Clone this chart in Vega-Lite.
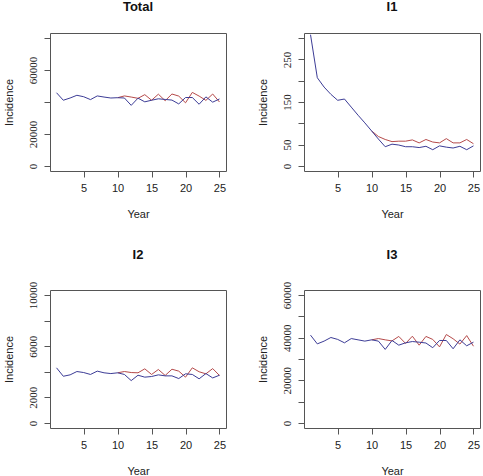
{
  "$schema": "https://vega.github.io/schema/vega-lite/v6.json",
  "background": "white",
  "padding": {"left": 2, "top": 0, "right": 4, "bottom": 0},
  "datasets": {
    "d": [
      {"p":"Total","s":"Model","yr":10,"v":42700},{"p":"Total","s":"Model","yr":11,"v":43800},{"p":"Total","s":"Model","yr":12,"v":43100},{"p":"Total","s":"Model","yr":13,"v":42300},{"p":"Total","s":"Model","yr":14,"v":44600},{"p":"Total","s":"Model","yr":15,"v":41100},{"p":"Total","s":"Model","yr":16,"v":44900},{"p":"Total","s":"Model","yr":17,"v":40800},{"p":"Total","s":"Model","yr":18,"v":45000},{"p":"Total","s":"Model","yr":19,"v":43700},{"p":"Total","s":"Model","yr":20,"v":39500},{"p":"Total","s":"Model","yr":21,"v":46000},{"p":"Total","s":"Model","yr":22,"v":43700},{"p":"Total","s":"Model","yr":23,"v":41000},{"p":"Total","s":"Model","yr":24,"v":45000},{"p":"Total","s":"Model","yr":25,"v":40000},
      {"p":"Total","s":"Reported","yr":1,"v":45800},{"p":"Total","s":"Reported","yr":2,"v":41100},{"p":"Total","s":"Reported","yr":3,"v":42500},{"p":"Total","s":"Reported","yr":4,"v":44200},{"p":"Total","s":"Reported","yr":5,"v":43300},{"p":"Total","s":"Reported","yr":6,"v":41500},{"p":"Total","s":"Reported","yr":7,"v":43800},{"p":"Total","s":"Reported","yr":8,"v":43100},{"p":"Total","s":"Reported","yr":9,"v":42500},{"p":"Total","s":"Reported","yr":10,"v":42700},{"p":"Total","s":"Reported","yr":11,"v":42500},{"p":"Total","s":"Reported","yr":12,"v":37900},{"p":"Total","s":"Reported","yr":13,"v":42400},{"p":"Total","s":"Reported","yr":14,"v":40100},{"p":"Total","s":"Reported","yr":15,"v":41100},{"p":"Total","s":"Reported","yr":16,"v":42000},{"p":"Total","s":"Reported","yr":17,"v":41600},{"p":"Total","s":"Reported","yr":18,"v":41200},{"p":"Total","s":"Reported","yr":19,"v":38800},{"p":"Total","s":"Reported","yr":20,"v":42800},{"p":"Total","s":"Reported","yr":21,"v":42800},{"p":"Total","s":"Reported","yr":22,"v":38600},{"p":"Total","s":"Reported","yr":23,"v":43200},{"p":"Total","s":"Reported","yr":24,"v":39900},{"p":"Total","s":"Reported","yr":25,"v":41900},

      {"p":"I1","s":"Model","yr":10,"v":82},{"p":"I1","s":"Model","yr":11,"v":69},{"p":"I1","s":"Model","yr":12,"v":62},{"p":"I1","s":"Model","yr":13,"v":57},{"p":"I1","s":"Model","yr":14,"v":58},{"p":"I1","s":"Model","yr":15,"v":58},{"p":"I1","s":"Model","yr":16,"v":61},{"p":"I1","s":"Model","yr":17,"v":54},{"p":"I1","s":"Model","yr":18,"v":62},{"p":"I1","s":"Model","yr":19,"v":56},{"p":"I1","s":"Model","yr":20,"v":54},{"p":"I1","s":"Model","yr":21,"v":64},{"p":"I1","s":"Model","yr":22,"v":54},{"p":"I1","s":"Model","yr":23,"v":54},{"p":"I1","s":"Model","yr":24,"v":62},{"p":"I1","s":"Model","yr":25,"v":52},
      {"p":"I1","s":"Reported","yr":1,"v":308},{"p":"I1","s":"Reported","yr":2,"v":207},{"p":"I1","s":"Reported","yr":3,"v":185},{"p":"I1","s":"Reported","yr":4,"v":168},{"p":"I1","s":"Reported","yr":5,"v":154},{"p":"I1","s":"Reported","yr":6,"v":157},{"p":"I1","s":"Reported","yr":7,"v":138},{"p":"I1","s":"Reported","yr":8,"v":119},{"p":"I1","s":"Reported","yr":9,"v":101},{"p":"I1","s":"Reported","yr":10,"v":82},{"p":"I1","s":"Reported","yr":11,"v":63},{"p":"I1","s":"Reported","yr":12,"v":45},{"p":"I1","s":"Reported","yr":13,"v":51},{"p":"I1","s":"Reported","yr":14,"v":49},{"p":"I1","s":"Reported","yr":15,"v":45},{"p":"I1","s":"Reported","yr":16,"v":45},{"p":"I1","s":"Reported","yr":17,"v":43},{"p":"I1","s":"Reported","yr":18,"v":46},{"p":"I1","s":"Reported","yr":19,"v":38},{"p":"I1","s":"Reported","yr":20,"v":47},{"p":"I1","s":"Reported","yr":21,"v":44},{"p":"I1","s":"Reported","yr":22,"v":42},{"p":"I1","s":"Reported","yr":23,"v":46},{"p":"I1","s":"Reported","yr":24,"v":38},{"p":"I1","s":"Reported","yr":25,"v":47},

      {"p":"I2","s":"Model","yr":10,"v":3920},{"p":"I2","s":"Model","yr":11,"v":4020},{"p":"I2","s":"Model","yr":12,"v":3940},{"p":"I2","s":"Model","yr":13,"v":3920},{"p":"I2","s":"Model","yr":14,"v":4230},{"p":"I2","s":"Model","yr":15,"v":3790},{"p":"I2","s":"Model","yr":16,"v":4180},{"p":"I2","s":"Model","yr":17,"v":3710},{"p":"I2","s":"Model","yr":18,"v":4200},{"p":"I2","s":"Model","yr":19,"v":4050},{"p":"I2","s":"Model","yr":20,"v":3580},{"p":"I2","s":"Model","yr":21,"v":4310},{"p":"I2","s":"Model","yr":22,"v":4000},{"p":"I2","s":"Model","yr":23,"v":3840},{"p":"I2","s":"Model","yr":24,"v":4250},{"p":"I2","s":"Model","yr":25,"v":3710},
      {"p":"I2","s":"Reported","yr":1,"v":4310},{"p":"I2","s":"Reported","yr":2,"v":3650},{"p":"I2","s":"Reported","yr":3,"v":3760},{"p":"I2","s":"Reported","yr":4,"v":4020},{"p":"I2","s":"Reported","yr":5,"v":3940},{"p":"I2","s":"Reported","yr":6,"v":3790},{"p":"I2","s":"Reported","yr":7,"v":4050},{"p":"I2","s":"Reported","yr":8,"v":3920},{"p":"I2","s":"Reported","yr":9,"v":3860},{"p":"I2","s":"Reported","yr":10,"v":3920},{"p":"I2","s":"Reported","yr":11,"v":3790},{"p":"I2","s":"Reported","yr":12,"v":3310},{"p":"I2","s":"Reported","yr":13,"v":3730},{"p":"I2","s":"Reported","yr":14,"v":3580},{"p":"I2","s":"Reported","yr":15,"v":3630},{"p":"I2","s":"Reported","yr":16,"v":3760},{"p":"I2","s":"Reported","yr":17,"v":3680},{"p":"I2","s":"Reported","yr":18,"v":3680},{"p":"I2","s":"Reported","yr":19,"v":3470},{"p":"I2","s":"Reported","yr":20,"v":3840},{"p":"I2","s":"Reported","yr":21,"v":3790},{"p":"I2","s":"Reported","yr":22,"v":3450},{"p":"I2","s":"Reported","yr":23,"v":3860},{"p":"I2","s":"Reported","yr":24,"v":3520},{"p":"I2","s":"Reported","yr":25,"v":3730},

      {"p":"I3","s":"Model","yr":10,"v":39000},{"p":"I3","s":"Model","yr":11,"v":39600},{"p":"I3","s":"Model","yr":12,"v":39000},{"p":"I3","s":"Model","yr":13,"v":38500},{"p":"I3","s":"Model","yr":14,"v":40600},{"p":"I3","s":"Model","yr":15,"v":37300},{"p":"I3","s":"Model","yr":16,"v":40700},{"p":"I3","s":"Model","yr":17,"v":36500},{"p":"I3","s":"Model","yr":18,"v":40600},{"p":"I3","s":"Model","yr":19,"v":39200},{"p":"I3","s":"Model","yr":20,"v":35700},{"p":"I3","s":"Model","yr":21,"v":41500},{"p":"I3","s":"Model","yr":22,"v":39500},{"p":"I3","s":"Model","yr":23,"v":37000},{"p":"I3","s":"Model","yr":24,"v":41000},{"p":"I3","s":"Model","yr":25,"v":36000},
      {"p":"I3","s":"Reported","yr":1,"v":41200},{"p":"I3","s":"Reported","yr":2,"v":37100},{"p":"I3","s":"Reported","yr":3,"v":38400},{"p":"I3","s":"Reported","yr":4,"v":40100},{"p":"I3","s":"Reported","yr":5,"v":39200},{"p":"I3","s":"Reported","yr":6,"v":37600},{"p":"I3","s":"Reported","yr":7,"v":39600},{"p":"I3","s":"Reported","yr":8,"v":39000},{"p":"I3","s":"Reported","yr":9,"v":38400},{"p":"I3","s":"Reported","yr":10,"v":39000},{"p":"I3","s":"Reported","yr":11,"v":38400},{"p":"I3","s":"Reported","yr":12,"v":34500},{"p":"I3","s":"Reported","yr":13,"v":38700},{"p":"I3","s":"Reported","yr":14,"v":36500},{"p":"I3","s":"Reported","yr":15,"v":37600},{"p":"I3","s":"Reported","yr":16,"v":38200},{"p":"I3","s":"Reported","yr":17,"v":37900},{"p":"I3","s":"Reported","yr":18,"v":37500},{"p":"I3","s":"Reported","yr":19,"v":35300},{"p":"I3","s":"Reported","yr":20,"v":38700},{"p":"I3","s":"Reported","yr":21,"v":38700},{"p":"I3","s":"Reported","yr":22,"v":34800},{"p":"I3","s":"Reported","yr":23,"v":39000},{"p":"I3","s":"Reported","yr":24,"v":36200},{"p":"I3","s":"Reported","yr":25,"v":37900}
    ]
  },
  "data": {"name": "d"},
  "columns": 2,
  "spacing": {"row": 28, "column": 29},
  "concat": [
    {
      "title": "Total",
      "width": 176, "height": 138,
      "transform": [{"filter": "datum.p === 'Total'"}],
      "mark": {"type": "line", "strokeWidth": 1},
      "encoding": {
        "x": {"field": "yr", "type": "quantitative", "scale": {"domain": [0.04, 25.96], "nice": false, "zero": false}, "axis": {"values": [5, 10, 15, 20, 25], "title": "Year"}},
        "y": {"field": "v", "type": "quantitative", "scale": {"domain": [-3200, 83200], "nice": false, "zero": false}, "axis": {"values": [0, 20000, 40000, 60000, 80000], "format": "d", "labelExpr": "datum.value == 40000 || datum.value == 80000 ? '' : datum.label", "title": "Incidence"}},
        "color": {"field": "s", "type": "nominal", "scale": {"domain": ["Model", "Reported"], "range": ["#B54A4A", "#3C3C96"]}, "legend": null}
      }
    },
    {
      "title": "I1",
      "width": 176, "height": 138,
      "transform": [{"filter": "datum.p === 'I1'"}],
      "mark": {"type": "line", "strokeWidth": 1},
      "encoding": {
        "x": {"field": "yr", "type": "quantitative", "scale": {"domain": [0.04, 25.96], "nice": false, "zero": false}, "axis": {"values": [5, 10, 15, 20, 25], "title": "Year"}},
        "y": {"field": "v", "type": "quantitative", "scale": {"domain": [-12, 312], "nice": false, "zero": false}, "axis": {"values": [0, 50, 100, 150, 200, 250, 300], "format": "d", "labelExpr": "datum.value == 100 || datum.value == 200 || datum.value == 300 ? '' : datum.label", "title": "Incidence"}},
        "color": {"field": "s", "type": "nominal", "scale": {"domain": ["Model", "Reported"], "range": ["#B54A4A", "#3C3C96"]}, "legend": null}
      }
    },
    {
      "title": "I2",
      "width": 176, "height": 138,
      "transform": [{"filter": "datum.p === 'I2'"}],
      "mark": {"type": "line", "strokeWidth": 1},
      "encoding": {
        "x": {"field": "yr", "type": "quantitative", "scale": {"domain": [0.04, 25.96], "nice": false, "zero": false}, "axis": {"values": [5, 10, 15, 20, 25], "title": "Year"}},
        "y": {"field": "v", "type": "quantitative", "scale": {"domain": [-400, 10400], "nice": false, "zero": false}, "axis": {"values": [0, 2000, 4000, 6000, 8000, 10000], "format": "d", "labelExpr": "datum.value == 4000 || datum.value == 8000 ? '' : datum.label", "title": "Incidence"}},
        "color": {"field": "s", "type": "nominal", "scale": {"domain": ["Model", "Reported"], "range": ["#B54A4A", "#3C3C96"]}, "legend": null}
      }
    },
    {
      "title": "I3",
      "width": 176, "height": 138,
      "transform": [{"filter": "datum.p === 'I3'"}],
      "mark": {"type": "line", "strokeWidth": 1},
      "encoding": {
        "x": {"field": "yr", "type": "quantitative", "scale": {"domain": [0.04, 25.96], "nice": false, "zero": false}, "axis": {"values": [5, 10, 15, 20, 25], "title": "Year"}},
        "y": {"field": "v", "type": "quantitative", "scale": {"domain": [-2400, 62400], "nice": false, "zero": false}, "axis": {"values": [0, 10000, 20000, 30000, 40000, 50000, 60000], "format": "d", "labelExpr": "datum.value == 10000 || datum.value == 30000 || datum.value == 50000 ? '' : datum.label", "title": "Incidence"}},
        "color": {"field": "s", "type": "nominal", "scale": {"domain": ["Model", "Reported"], "range": ["#B54A4A", "#3C3C96"]}, "legend": null}
      }
    }
  ],
  "config": {
    "font": "Liberation Sans",
    "view": {"stroke": "#555", "strokeWidth": 1},
    "axis": {"grid": false, "domain": false, "tickColor": "#555", "tickSize": 6, "labelColor": "#222", "titleColor": "#222", "labelFontSize": 11, "titleFontSize": 11, "titleFontWeight": "normal", "labelFont": "Liberation Sans", "titleFont": "Liberation Sans", "labelFlush": false, "labelOverlap": false, "labelBound": false},
    "axisX": {"labelPadding": 5, "titlePadding": 15, "labelAngle": 0},
    "axisY": {"labelAngle": 270, "labelAlign": "center", "labelBaseline": "bottom", "labelPadding": 6, "titlePadding": 13, "labelFont": "Liberation Sans Narrow", "labelFontSize": 11},
    "title": {"fontSize": 13, "fontWeight": "bold", "anchor": "middle", "frame": "group", "baseline": "alphabetic", "offset": 19, "color": "#111"}
  }
}
